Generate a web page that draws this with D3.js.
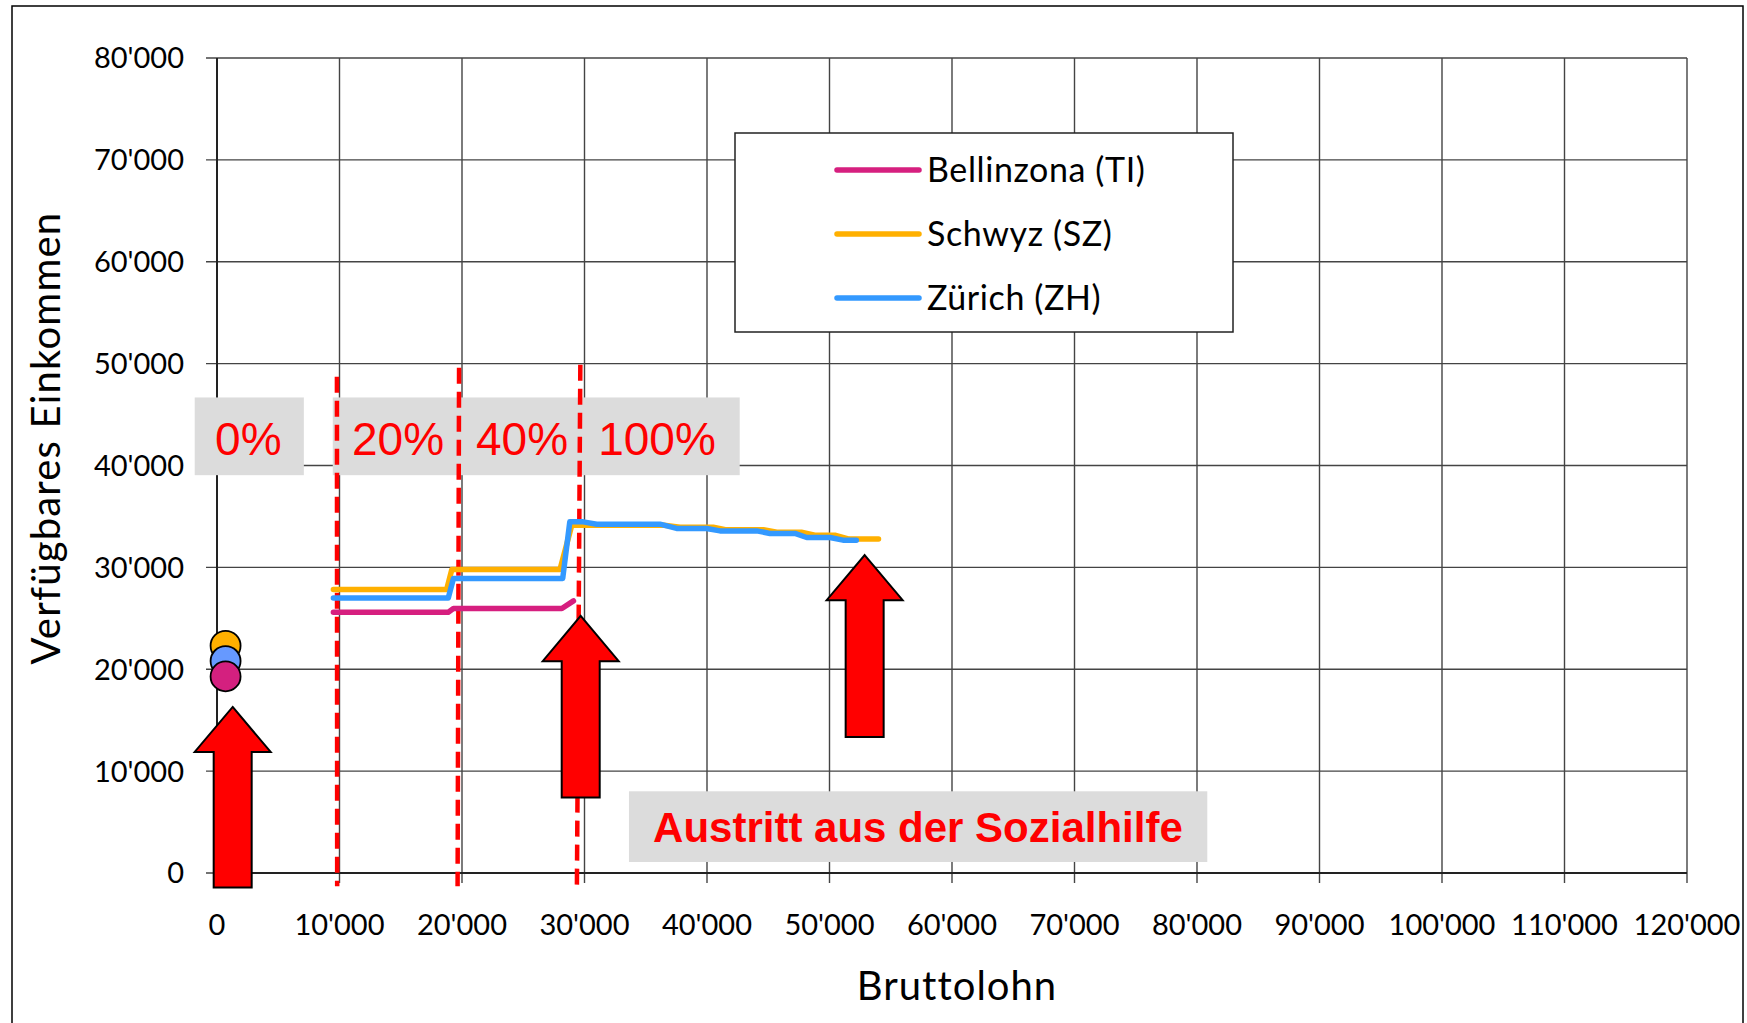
<!DOCTYPE html>
<html>
<head>
<meta charset="utf-8">
<script src="https://cdn.jsdelivr.net/npm/d3@7"></script>
<style>
  body { margin: 0; background: #fff; }
  svg { display: block; }
</style>
</head>
<body>
<svg id="chart" width="1747" height="1023"></svg>
<script>
// data
var x_ticks = [0, 10000, 20000, 30000, 40000, 50000, 60000, 70000, 80000, 90000, 100000, 110000, 120000];
var y_ticks = [0, 10000, 20000, 30000, 40000, 50000, 60000, 70000, 80000];

var series_names = ["Bellinzona (TI)", "Schwyz (SZ)", "Zürich (ZH)"];
var series_cols = ["#d61f7f", "#ffb000", "#3399ff"];
var dot_cols = ["#d4207f", "#ffb000", "#6699ff"];

var bellinzona = [[9500, 25600], [18880, 25600], [19300, 25960], [28150, 25960], [29100, 26710]];
var schwyz = [[9500, 27830], [18750, 27830], [19170, 29790], [28000, 29790], [28960, 34140],
              [36500, 34140], [37800, 33950], [40500, 33950], [41500, 33700], [44600, 33700],
              [45700, 33450], [47700, 33450], [48800, 33150], [50500, 33150], [51600, 32780],
              [54000, 32780]];
var zurich = [[9500, 27000], [18880, 27000], [19300, 28910], [28220, 28910], [28800, 34470],
              [29900, 34470], [31000, 34240], [36160, 34240], [37520, 33820], [39970, 33820],
              [41060, 33580], [44060, 33580], [45140, 33330], [47180, 33330], [48140, 32930],
              [50040, 32930], [51100, 32670], [52190, 32670]];

// income with no work (dots at the left)
var dot_x = [700, 700, 700];
var dot_y = [19300, 22300, 20800]; // TI, SZ, ZH

// thresholds (dashed red lines): x at top, x at bottom, top value
var thresh_x_top = [9790, 19760, 29660];
var thresh_x_bot = [9810, 19640, 29380];
var thresh_top = [48700, 49600, 49900];
var thresh_bot = -1300;

// percent labels
var pct_labels = ["0%", "20%", "40%", "100%"];
var pct_x = [2560, 14780, 24900, 35920];

// arrows: tip x, tip y, head base y, tail y
var arrow_x = [1280, 29690, 52870];
var arrow_tip = [16300, 25240, 31200];
var arrow_head = [11880, 20790, 26780];
var arrow_tail = [-1430, 7400, 13350];

var svg = d3.select("#chart");
var margin = {left: 217, right: 1687, top: 58, bottom: 873};

var x = d3.scaleLinear().domain([0, 120000]).range([margin.left, margin.right]);
var y = d3.scaleLinear().domain([0, 80000]).range([margin.bottom, margin.top]);

function fmt(v) {
  return d3.format(",")(v).replace(/,/g, "'");
}

var tick_font = "Lato, 'Open Sans', sans-serif";

// outer frame
svg.append("rect")
   .attr("x", 12).attr("y", 6)
   .attr("width", 1731).attr("height", 1040)
   .attr("fill", "#fff")
   .attr("stroke", "#000")
   .attr("stroke-width", 1.5);

// grid lines + ticks
var grid = svg.append("g");
grid.selectAll(".hgrid")
    .data(y_ticks)
    .enter().append("line")
    .attr("x1", margin.left - 11)
    .attr("x2", margin.right)
    .attr("y1", function (d) { return y(d); })
    .attr("y2", function (d) { return y(d); })
    .attr("stroke", "#444")
    .attr("stroke-width", 1.4);
grid.selectAll(".vgrid")
    .data(x_ticks)
    .enter().append("line")
    .attr("x1", function (d) { return x(d); })
    .attr("x2", function (d) { return x(d); })
    .attr("y1", margin.top)
    .attr("y2", margin.bottom + 10)
    .attr("stroke", "#444")
    .attr("stroke-width", 1.4);

// axis lines a bit darker
svg.append("line")
   .attr("x1", margin.left).attr("x2", margin.left)
   .attr("y1", margin.top).attr("y2", margin.bottom)
   .attr("stroke", "#222").attr("stroke-width", 2);
svg.append("line")
   .attr("x1", margin.left).attr("x2", margin.right)
   .attr("y1", margin.bottom).attr("y2", margin.bottom)
   .attr("stroke", "#222").attr("stroke-width", 2);

// tick labels
svg.selectAll(".ylab")
   .data(y_ticks)
   .enter().append("text")
   .attr("x", 184)
   .attr("y", function (d) { return y(d); })
   .attr("dy", "0.36em")
   .attr("text-anchor", "end")
   .style("font-family", tick_font)
   .style("font-size", "29px")
   .text(fmt);
svg.selectAll(".xlab")
   .data(x_ticks)
   .enter().append("text")
   .attr("x", function (d) { return x(d); })
   .attr("y", 935)
   .attr("text-anchor", "middle")
   .style("font-family", tick_font)
   .style("font-size", "29px")
   .text(fmt);

// axis titles
svg.append("text")
   .attr("transform", "translate(60,438) rotate(-90)")
   .attr("text-anchor", "middle")
   .style("font-family", tick_font)
   .style("font-size", "40px")
   .style("letter-spacing", "1.2px")
   .text("Verfügbares Einkommen");
svg.append("text")
   .attr("x", 957).attr("y", 1000)
   .attr("text-anchor", "middle")
   .style("font-family", tick_font)
   .style("font-size", "40px")
   .style("letter-spacing", "1px")
   .text("Bruttolohn");

// percent boxes
var box_fill = "#dcdcdc";
svg.append("rect")
   .attr("x", x(-1820)).attr("y", y(46680))
   .attr("width", x(7090) - x(-1820))
   .attr("height", y(39050) - y(46680))
   .attr("fill", box_fill);
svg.append("rect")
   .attr("x", x(9450)).attr("y", y(46680))
   .attr("width", x(42670) - x(9450))
   .attr("height", y(39050) - y(46680))
   .attr("fill", box_fill);
svg.selectAll(".pct")
   .data(pct_labels)
   .enter().append("text")
   .attr("x", function (d, i) { return x(pct_x[i]); })
   .attr("y", 455)
   .attr("text-anchor", "middle")
   .style("font-family", "'Liberation Sans', Arial, sans-serif")
   .style("font-size", "46px")
   .attr("fill", "#ff0000")
   .text(function (d) { return d; });

// dashed thresholds
svg.selectAll(".thresh")
   .data(thresh_x_top)
   .enter().append("line")
   .attr("x1", function (d) { return x(d); })
   .attr("x2", function (d, i) { return x(thresh_x_bot[i]); })
   .attr("y1", function (d, i) { return y(thresh_top[i]); })
   .attr("y2", y(thresh_bot))
   .attr("stroke", "#ff0000")
   .attr("stroke-width", 4.5)
   .attr("stroke-dasharray", "16,8");

// Austritt box
svg.append("rect")
   .attr("x", x(33630)).attr("y", y(8020))
   .attr("width", x(80840) - x(33630))
   .attr("height", y(1080) - y(8020))
   .attr("fill", box_fill);
svg.append("text")
   .attr("x", x(57220)).attr("y", y(3040))
   .attr("text-anchor", "middle")
   .style("font-family", "'Liberation Sans', Arial, sans-serif")
   .style("font-size", "42px")
   .style("font-weight", "bold")
   .attr("fill", "#ff0000")
   .text("Austritt aus der Sozialhilfe");

// lines
var line = d3.line()
  .x(function (d) { return x(d[0]); })
  .y(function (d) { return y(d[1]); });

var all_series = [bellinzona, schwyz, zurich];
var draw_order = [1, 2, 0];
draw_order.forEach(function (i) {
  svg.append("path")
     .attr("d", line(all_series[i]))
     .attr("fill", "none")
     .attr("stroke", series_cols[i])
     .attr("stroke-width", 5.5)
     .attr("stroke-linejoin", "round")
     .attr("stroke-linecap", "round");
});

// dots at zero income, drawn SZ, ZH, TI
[1, 2, 0].forEach(function (i) {
  svg.append("circle")
     .attr("cx", x(dot_x[i]))
     .attr("cy", y(dot_y[i]))
     .attr("r", 15)
     .attr("fill", dot_cols[i])
     .attr("stroke", "#000")
     .attr("stroke-width", 1.8);
});

// arrows
var head_half = 38, shaft_half = 19;
arrow_x.forEach(function (ax, i) {
  var cx = x(ax), t = y(arrow_tip[i]), h = y(arrow_head[i]), b = y(arrow_tail[i]);
  var pts = [[cx, t], [cx + head_half, h], [cx + shaft_half, h], [cx + shaft_half, b],
             [cx - shaft_half, b], [cx - shaft_half, h], [cx - head_half, h]];
  svg.append("polygon")
     .attr("points", pts.map(function (p) { return p.join(","); }).join(" "))
     .attr("fill", "#ff0000")
     .attr("stroke", "#000")
     .attr("stroke-width", 2);
});

// legend
var lg = svg.append("g");
lg.append("rect")
  .attr("x", 735).attr("y", 133)
  .attr("width", 498).attr("height", 199)
  .attr("fill", "#fff")
  .attr("stroke", "#222")
  .attr("stroke-width", 1.5);
series_names.forEach(function (name, i) {
  var ly = 170 + i * 64;
  lg.append("line")
    .attr("x1", 837).attr("x2", 919)
    .attr("y1", ly).attr("y2", ly)
    .attr("stroke", series_cols[i])
    .attr("stroke-width", 5.5)
    .attr("stroke-linecap", "round");
  lg.append("text")
    .attr("x", 927).attr("y", ly)
    .attr("dy", "0.36em")
    .style("font-family", tick_font)
    .style("font-size", "34px")
    .style("letter-spacing", "0.6px")
    .text(name);
});
</script>
</body>
</html>
